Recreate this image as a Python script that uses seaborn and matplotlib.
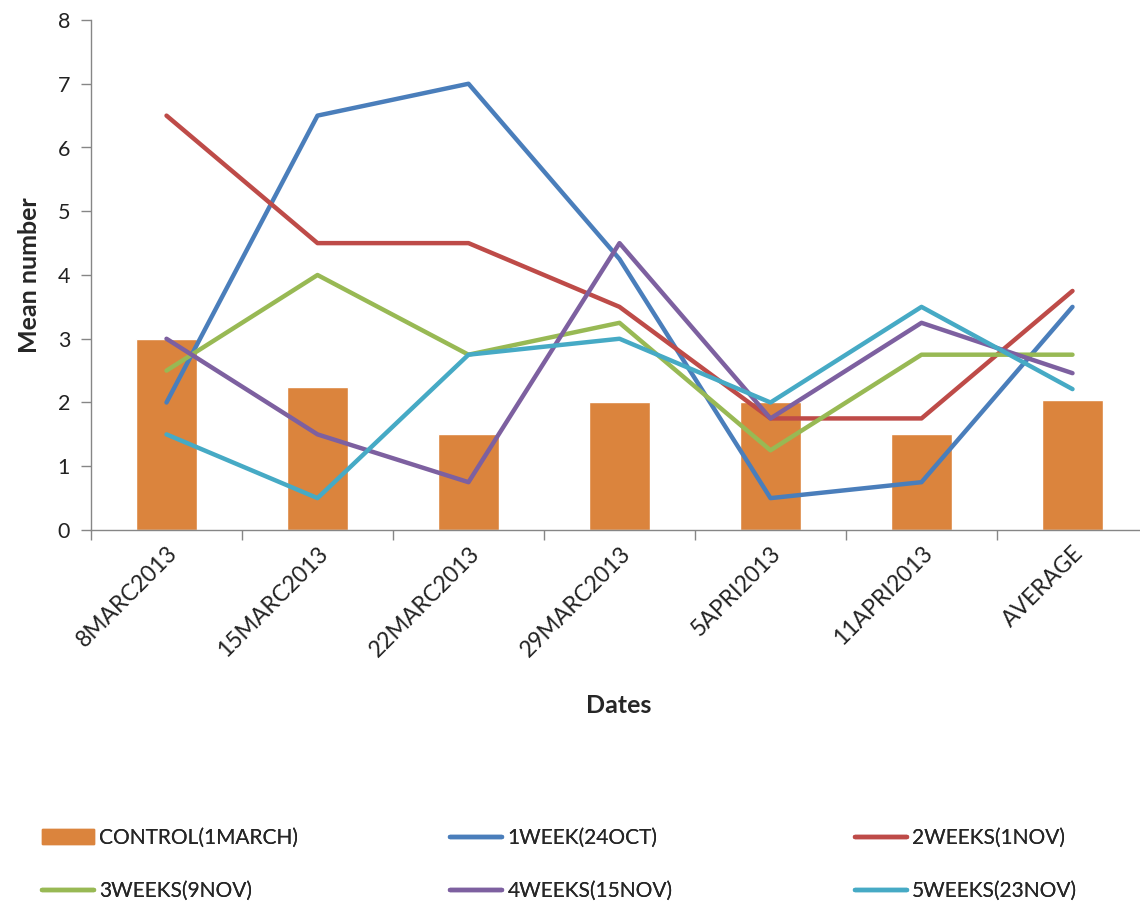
import matplotlib
matplotlib.use("Agg")
import matplotlib.pyplot as plt
import seaborn as sns
import pandas as pd
from matplotlib.patches import Patch
from matplotlib.lines import Line2D

categories = ["8MARC2013", "15MARC2013", "22MARC2013", "29MARC2013", "5APRI2013", "11APRI2013", "AVERAGE"]
control = [3.0, 2.25, 1.5, 2.0, 2.0, 1.5, 2.04]
week1 = [2.0, 6.5, 7.0, 4.25, 0.5, 0.75, 3.5]
week2 = [6.5, 4.5, 4.5, 3.5, 1.75, 1.75, 3.75]
week3 = [2.5, 4.0, 2.75, 3.25, 1.25, 2.75, 2.75]
week4 = [3.0, 1.5, 0.75, 4.5, 1.75, 3.25, 2.46]
week5 = [1.5, 0.5, 2.75, 3.0, 2.0, 3.5, 2.21]

series_names = ["1WEEK(24OCT)", "2WEEKS(1NOV)", "3WEEKS(9NOV)", "4WEEKS(15NOV)", "5WEEKS(23NOV)"]
control_name = "CONTROL(1MARCH)"
colors = ["#4A7EBB", "#BE4B48", "#98B954", "#7D60A0", "#46AAC5"]
bar_color = "#DB843D"

sns.set_style("white")
plt.rcParams['font.family'] = ['Lato', 'DejaVu Sans']

fig = plt.figure(figsize=(11.4, 9.05), dpi=100)
ax = fig.add_axes([91/1140, 1-530/905, 1057/1140, 510/905])

df_bar = pd.DataFrame({"Dates": categories, "value": control})
sns.barplot(data=df_bar, x="Dates", y="value", color=bar_color, width=0.4,
            saturation=1, ax=ax, order=categories)

rows = []
for name, vals in zip(series_names, [week1, week2, week3, week4, week5]):
    for c, v in zip(categories, vals):
        rows.append({"Dates": c, "value": v, "series": name})
df_lines = pd.DataFrame(rows)
df_lines["pos"] = df_lines["Dates"].map({c: i for i, c in enumerate(categories)})
sns.lineplot(data=df_lines, x="pos", y="value", hue="series", hue_order=series_names,
             palette=colors, linewidth=3.2, ax=ax, legend=False, sort=False)

ax.set_xlim(-0.5, len(categories) - 0.5)
ax.set_ylim(0, 8)
ax.set_yticks(range(0, 9))
ax.set_xticks([i - 0.5 for i in range(len(categories))], minor=False)
ax.set_xticklabels([""] * len(categories))
ax.set_xticks(range(len(categories)), minor=True)
ax.set_xticklabels(categories, minor=True, rotation=45, ha="right",
                   rotation_mode="anchor", fontsize=16.5, color="#222222")
ax.tick_params(axis="x", which="minor", length=0, pad=9)
ax.tick_params(axis="x", which="major", length=7, width=1, color="#868686", direction="out", bottom=True)
ax.tick_params(axis="y", length=7, width=1, color="#868686", direction="out", left=True,
               labelsize=15.5, labelcolor="#222222", pad=8)
for s in ["top", "right"]:
    ax.spines[s].set_visible(False)
for s in ["left", "bottom"]:
    ax.spines[s].set_color("#868686")
    ax.spines[s].set_linewidth(1)

ax.set_ylabel("Mean number", fontsize=18, fontweight="bold", labelpad=12)
ax.set_xlabel("")
fig.text(619/1140, 1-705/905, "Dates", fontsize=18, fontweight="bold", ha="center", va="center")

handles = [Patch(facecolor=bar_color, edgecolor=bar_color)]
labels = [control_name]
for n, c in zip(series_names, colors):
    handles.append(Line2D([0], [0], color=c, linewidth=3.2))
    labels.append(n)

col_x = [42, 450, 855]
col_items = [[0, 3], [1, 4], [2, 5]]
for x, items in zip(col_x, col_items):
    lg = fig.legend([handles[i] for i in items], [labels[i] for i in items],
                    loc="upper left", bbox_to_anchor=(x/1140, 1-828/905),
                    frameon=False, fontsize=15, handlelength=2.5, handletextpad=0.25,
                    labelspacing=1.6, borderpad=0, borderaxespad=0)
    fig.add_artist(lg)

fig.savefig("out.png", dpi=100)
